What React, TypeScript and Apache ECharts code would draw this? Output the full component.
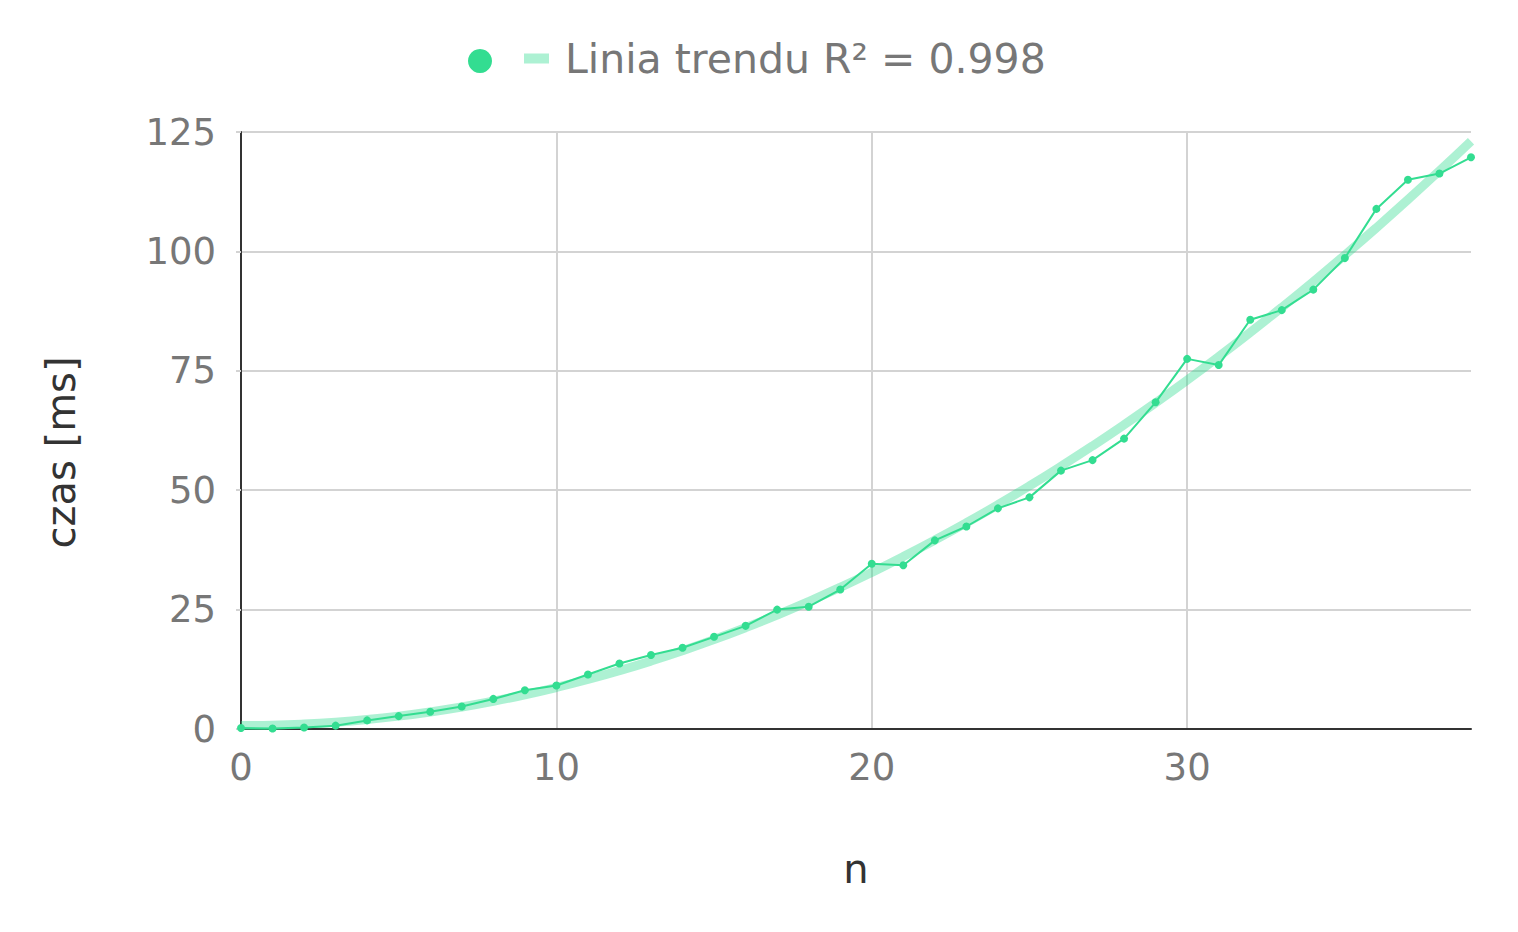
import React, { useEffect, useRef } from "react";
import * as echarts from "echarts";

const nValues: number[] = [
  0, 1, 2, 3, 4, 5, 6, 7, 8, 9, 10, 11, 12, 13, 14, 15, 16, 17, 18, 19, 20,
  21, 22, 23, 24, 25, 26, 27, 28, 29, 30, 31, 32, 33, 34, 35, 36, 37, 38, 39,
];
const timeValues: number[] = [
  0.2, 0.1, 0.3, 0.7, 1.8, 2.7, 3.6, 4.7, 6.3, 8.1, 9.1, 11.4, 13.7, 15.5,
  17.0, 19.3, 21.6, 25.0, 25.6, 29.2, 34.6, 34.3, 39.5, 42.4, 46.2, 48.5, 54.1,
  56.3, 60.8, 68.4, 77.5, 76.2, 85.7, 87.7, 92.0, 98.6, 108.9, 115.0, 116.3,
  119.7,
];
const yTicks: number[] = [0, 25, 50, 75, 100, 125];
const xTicks: number[] = [0, 10, 20, 30];
const dataName = " ";
const trendName = "Linia trendu R\u00b2 = 0.998";

// least-squares quadratic fit (the trend line) computed from the data
function quadFit(xs: number[], ys: number[]) {
  let s0 = 0, s1 = 0, s2 = 0, s3 = 0, s4 = 0, t0 = 0, t1 = 0, t2 = 0;
  for (let i = 0; i < xs.length; i++) {
    const x = xs[i], y = ys[i];
    s0 += 1; s1 += x; s2 += x * x; s3 += x * x * x; s4 += x * x * x * x;
    t0 += y; t1 += x * y; t2 += x * x * y;
  }
  const M = [
    [s0, s1, s2, t0],
    [s1, s2, s3, t1],
    [s2, s3, s4, t2],
  ];
  for (let c = 0; c < 3; c++) {
    for (let r = c + 1; r < 3; r++) {
      const f = M[r][c] / M[c][c];
      for (let k = c; k < 4; k++) M[r][k] -= f * M[c][k];
    }
  }
  const sol = [0, 0, 0];
  for (let r = 2; r >= 0; r--) {
    let v = M[r][3];
    for (let k = r + 1; k < 3; k++) v -= M[r][k] * sol[k];
    sol[r] = v / M[r][r];
  }
  return sol;
}

const GREEN = "#33dd91";
const TREND = "rgba(51,221,145,0.4)";
const FONT = "DejaVu Sans";

export default function App() {
  const ref = useRef<HTMLDivElement>(null);
  useEffect(() => {
    if (!ref.current) return;
    const chart = echarts.init(ref.current, null, { renderer: "svg" });
    const [a, b, c] = quadFit(nValues, timeValues);
    const trendData = nValues.map((x) => [x, a + b * x + c * x * x]);
    const points = nValues.map((x, i) => [x, timeValues[i]]);
    chart.setOption({
      animation: false,
      textStyle: { fontFamily: FONT },
      legend: [
        {
          data: [{ name: dataName, icon: "circle" }],
          left: 468,
          top: 41,
          padding: 0,
          itemWidth: 24,
          itemHeight: 24,
          textStyle: { fontSize: 40, fontFamily: FONT, color: "#777" },
          selectedMode: false,
        },
        {
          data: [{ name: trendName, icon: "rect" }],
          left: 524,
          top: 38,
          padding: 0,
          itemWidth: 25,
          itemHeight: 10,
          textStyle: {
            fontSize: 41,
            fontFamily: FONT,
            color: "#777",
            padding: [0, 0, 0, 11],
          },
          selectedMode: false,
        },
      ],
      grid: { left: 241, right: 47, top: 132, bottom: 203, containLabel: false },
      xAxis: {
        type: "value",
        min: 0,
        max: nValues[nValues.length - 1],
        interval: 10,
        name: "n",
        nameLocation: "middle",
        nameGap: 120,
        nameTextStyle: { fontSize: 40, color: "#333", fontFamily: FONT },
        axisLine: { show: true, lineStyle: { color: "#333", width: 2 } },
        axisTick: { show: false },
        axisLabel: {
          fontSize: 37,
          color: "#777",
          margin: 20,
          showMaxLabel: false,
          formatter: (v: number) => (xTicks.includes(v) ? String(v) : ""),
        },
        splitLine: {
          show: true,
          lineStyle: {
            color: ["#d3d3d3", "#d3d3d3", "#d3d3d3", "#d3d3d3", "rgba(0,0,0,0)"],
            width: 2,
          },
        },
      },
      yAxis: {
        type: "value",
        min: yTicks[0],
        max: yTicks[yTicks.length - 1],
        interval: 25,
        name: "czas [ms]",
        nameLocation: "middle",
        nameGap: 160,
        nameTextStyle: {
          fontSize: 40,
          color: "#333",
          fontFamily: FONT,
          padding: [0, 44, 0, 0],
        },
        axisLine: { show: true, lineStyle: { color: "#333", width: 2 } },
        axisTick: { show: true, length: 5, lineStyle: { color: "#d3d3d3", width: 2 } },
        axisLabel: { fontSize: 37, color: "#777", margin: 25 },
        splitLine: { show: true, lineStyle: { color: "#d3d3d3", width: 2 } },
      },
      series: [
        {
          name: trendName,
          type: "line",
          data: trendData,
          showSymbol: false,
          symbol: "none",
          smooth: true,
          lineStyle: { color: TREND, width: 9, cap: "butt" },
          itemStyle: { color: TREND },
          z: 1,
        },
        {
          name: dataName,
          type: "line",
          data: points,
          symbol: "circle",
          symbolSize: 8,
          showSymbol: true,
          lineStyle: { color: GREEN, width: 2 },
          itemStyle: { color: GREEN },
          z: 2,
        },
      ],
    });
    return () => chart.dispose();
  }, []);
  return (
    <div
      ref={ref}
      style={{ position: "fixed", left: 0, top: 0, width: 1518, height: 932, background: "#fff" }}
    />
  );
}
